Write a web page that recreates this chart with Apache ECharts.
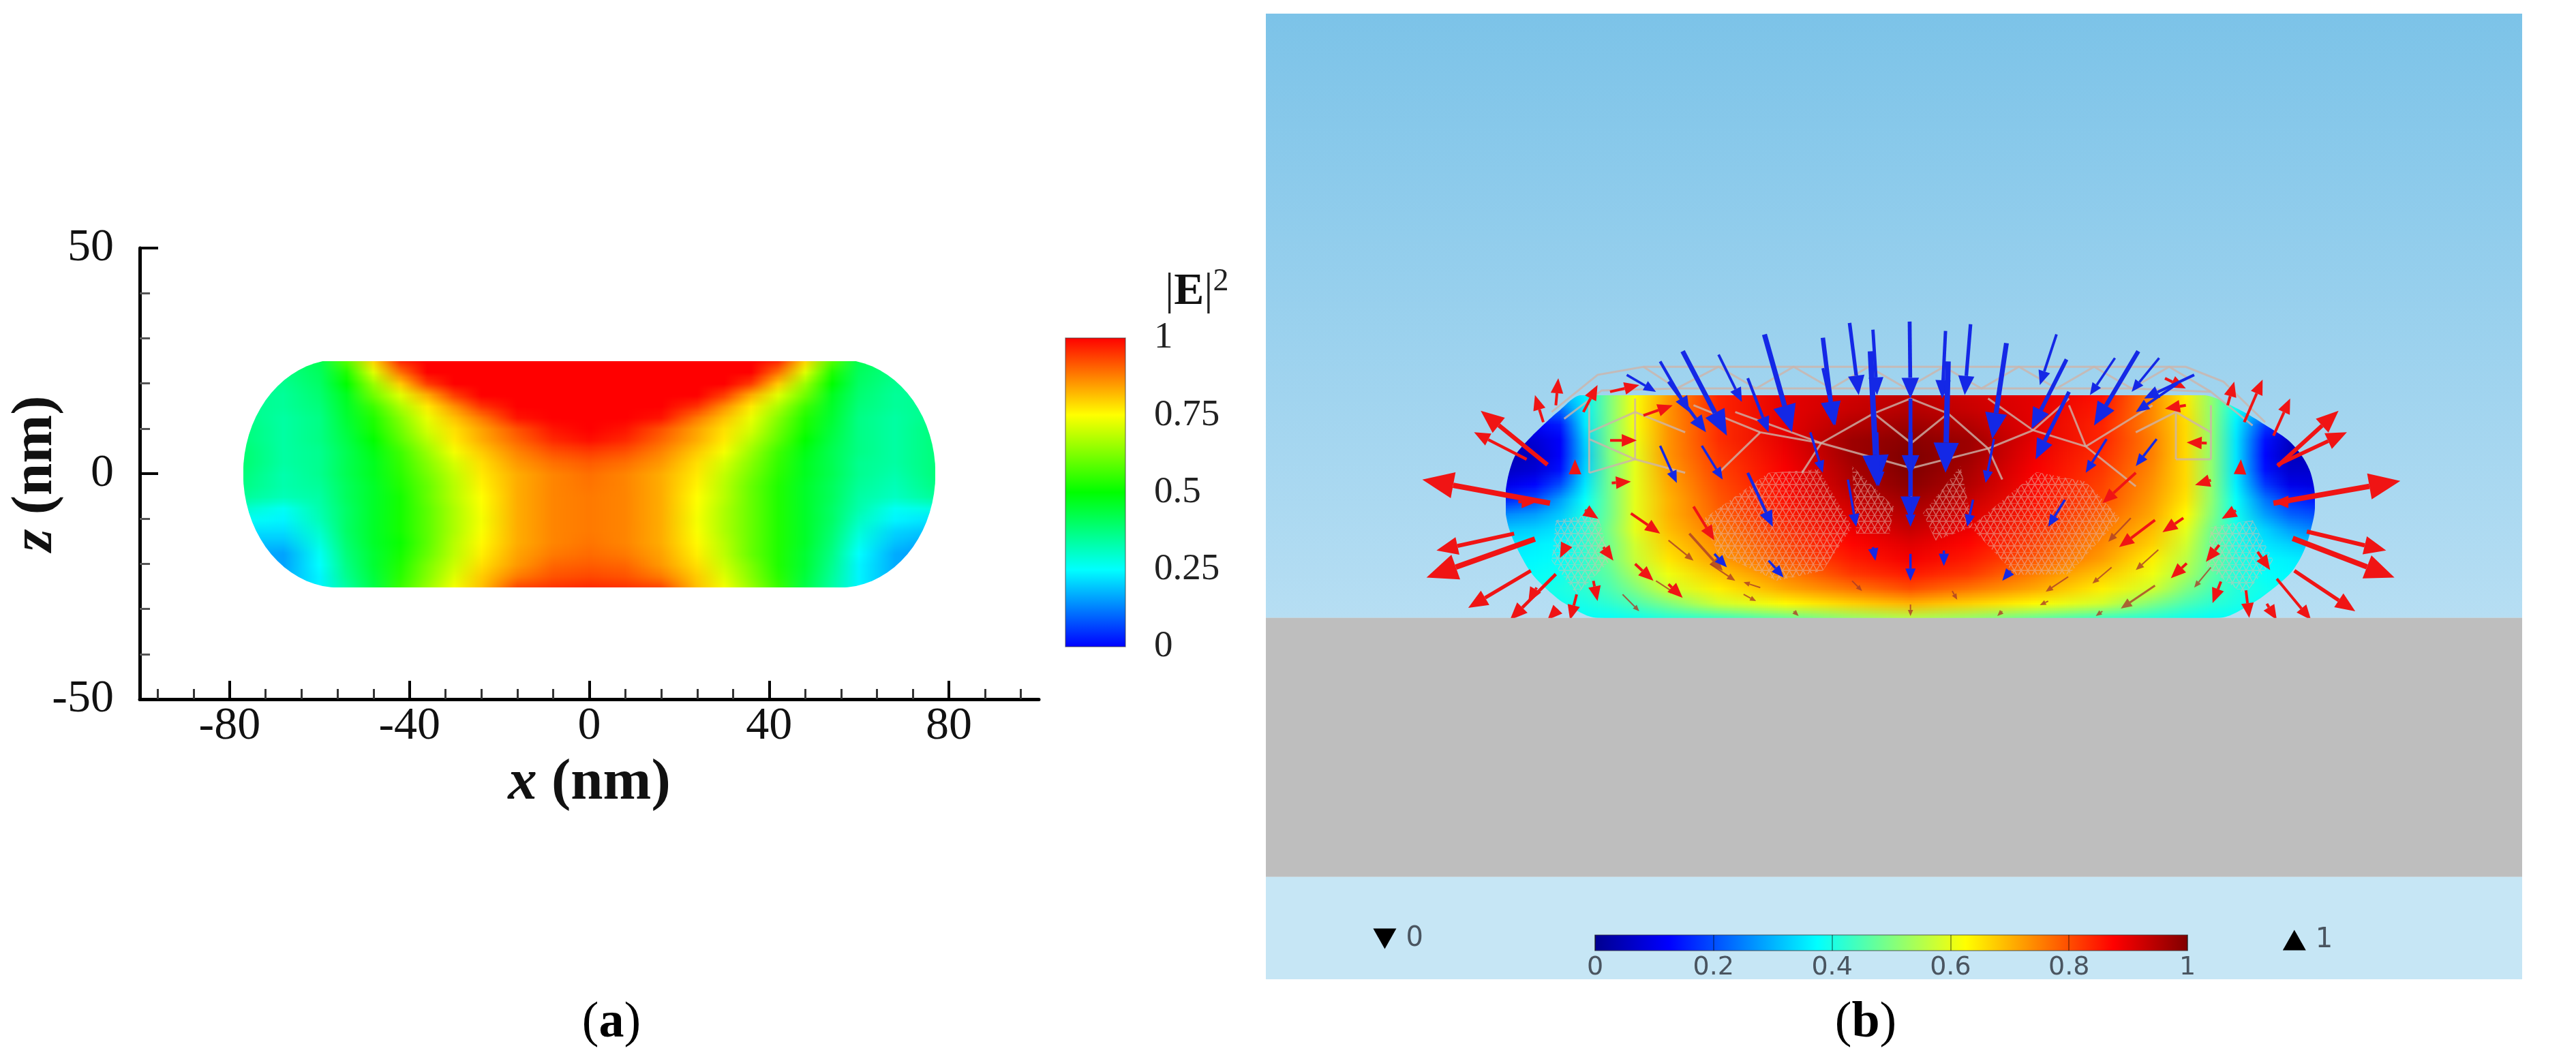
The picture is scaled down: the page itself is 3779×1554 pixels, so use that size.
<!DOCTYPE html>
<html>
<head>
<meta charset="utf-8">
<script src="https://cdn.jsdelivr.net/npm/echarts@6/dist/echarts.min.js"></script>
<style>
  html, body { margin: 0; padding: 0; background: #fff; }
  #main { width: 100vw; height: 100vh; }
</style>
</head>
<body>
<div id="main"></div>
<script>
// panel (a): axis ticks
const xMajor = [-80, -40, 0, 40, 80];
const xMinor = [-96, -88, -72, -64, -56, -48, -32, -24, -16, -8, 8, 16, 24, 32, 48, 56, 64, 72, 88, 96];
const zMajor = [-50, 0, 50];
const zMinor = [-40, -30, -20, -10, 10, 20, 30, 40];

// panel (a): |E|^2, one row per z, one column per x
const zRowsA = [25, 22.5, 20, 17.5, 15, 12.5, 10, 7.5, 5, 2.5, 0, -2.5, -5, -7.5, -10, -12.5, -15, -17.5, -20, -22.5, -25];
const xColsA = [-77, -68, -60, -54, -48, -42, -36, -30, -24, -16, -8, 0, 8, 16, 24, 30, 36, 42, 48, 54, 60, 68, 77];
const fieldA = [
  [.36,.37,.42,.58,.79,.96,1,1,1,1,1,1,1,1,1,1,1,.96,.79,.58,.42,.37,.36],
  [.36,.37,.41,.53,.72,.89,1,1,1,1,1,1,1,1,1,1,1,.89,.72,.53,.41,.37,.36],
  [.36,.36,.40,.50,.65,.80,.94,1,1,1,1,1,1,1,1,1,.94,.80,.65,.50,.40,.36,.36],
  [.36,.35,.39,.47,.61,.72,.83,.94,1,1,1,1,1,1,1,.94,.83,.72,.61,.47,.39,.35,.36],
  [.36,.35,.38,.46,.56,.67,.77,.86,.95,1,1,1,1,1,.95,.86,.77,.67,.56,.46,.38,.35,.36],
  [.37,.34,.37,.45,.53,.63,.73,.81,.88,.98,1,1,1,.98,.88,.81,.73,.63,.53,.45,.37,.34,.37],
  [.38,.34,.37,.44,.52,.61,.71,.78,.84,.92,.98,1,.98,.92,.84,.78,.71,.61,.52,.44,.37,.34,.38],
  [.38,.34,.37,.43,.50,.59,.68,.77,.83,.90,.96,.985,.96,.90,.83,.77,.68,.59,.50,.43,.37,.34,.38],
  [.39,.34,.36,.42,.48,.56,.65,.74,.80,.87,.92,.94,.92,.87,.80,.74,.65,.56,.48,.42,.37,.34,.38],
  [.39,.34,.36,.42,.47,.55,.63,.71,.78,.85,.89,.91,.89,.85,.78,.71,.63,.55,.47,.42,.36,.34,.38],
  [.38,.33,.36,.42,.47,.54,.615,.69,.77,.83,.87,.89,.87,.83,.77,.69,.615,.54,.47,.42,.36,.33,.38],
  [.37,.33,.35,.41,.46,.53,.60,.68,.76,.83,.87,.885,.87,.83,.76,.68,.60,.53,.46,.41,.35,.32,.37],
  [.35,.32,.34,.41,.46,.52,.60,.68,.75,.83,.87,.88,.87,.83,.75,.68,.60,.53,.46,.41,.34,.31,.35],
  [.30,.26,.33,.40,.46,.52,.59,.67,.745,.83,.87,.88,.87,.83,.745,.67,.60,.53,.46,.40,.33,.26,.28],
  [.26,.24,.32,.40,.46,.52,.59,.67,.74,.83,.87,.88,.87,.83,.74,.67,.60,.53,.46,.40,.31,.24,.22],
  [.22,.22,.30,.40,.46,.52,.59,.67,.745,.83,.87,.88,.87,.83,.745,.67,.60,.53,.46,.39,.29,.21,.19],
  [.19,.19,.28,.39,.46,.51,.59,.68,.755,.83,.87,.885,.87,.83,.755,.68,.60,.53,.46,.38,.27,.19,.16],
  [.17,.16,.26,.38,.45,.52,.60,.685,.765,.84,.88,.895,.88,.84,.765,.685,.60,.53,.45,.37,.25,.17,.14],
  [.17,.16,.25,.37,.45,.53,.62,.70,.78,.85,.90,.91,.90,.85,.78,.70,.62,.53,.45,.36,.24,.17,.15],
  [.18,.17,.24,.36,.44,.54,.63,.72,.80,.88,.92,.93,.92,.88,.80,.72,.63,.54,.44,.35,.24,.17,.16],
  [.20,.18,.24,.34,.43,.556,.65,.74,.81,.93,.95,.96,.95,.93,.81,.74,.65,.556,.43,.34,.24,.18,.18]
];
const barTicksA = [0, 0.25, 0.5, 0.75, 1];

// panel (b): scene units, normal field
const yRowsB = [585, 607, 629, 651, 673, 695, 717, 739, 761, 783, 805, 827, 849, 871, 893, 915];
const xColsB = [285, 320, 350, 380, 410, 440, 480, 540, 620, 700, 770, 840, 920, 1000, 1060, 1100, 1130, 1160, 1195, 1225, 1255];
const leftEdgeB = [376, 350, 330, 312, 297, 290, 286, 284, 285, 289, 296, 305, 316, 333, 355, 395];
const rightEdgeB = [1120, 1165, 1195, 1222, 1238, 1248, 1253, 1255, 1254, 1250, 1245, 1237, 1225, 1205, 1180, 1140];
const fieldB = [
  [.30,.30,.30,.36,.50,.62,.72,.84,.90,.92,.94,.92,.90,.86,.74,.64,.52,.40,.34,.34,.34],
  [.20,.20,.22,.36,.50,.62,.73,.84,.90,.93,.95,.93,.90,.85,.74,.65,.52,.38,.28,.24,.24],
  [.12,.12,.15,.35,.50,.62,.73,.83,.90,.95,.97,.95,.90,.84,.74,.66,.52,.36,.18,.12,.12],
  [.06,.08,.12,.33,.50,.61,.73,.83,.90,.97,.99,.97,.90,.84,.75,.66,.52,.35,.14,.06,.06],
  [.04,.06,.12,.32,.50,.60,.73,.82,.89,.97,1,.97,.89,.83,.75,.66,.52,.35,.13,.05,.05],
  [.06,.08,.14,.33,.49,.60,.72,.81,.88,.96,1,.96,.88,.82,.74,.66,.52,.35,.14,.07,.07],
  [.10,.13,.20,.35,.49,.60,.71,.80,.87,.95,.99,.95,.87,.81,.73,.66,.52,.36,.18,.10,.09],
  [.16,.20,.28,.38,.49,.60,.70,.79,.86,.93,.97,.93,.86,.80,.72,.65,.52,.38,.24,.17,.15],
  [.26,.28,.32,.40,.49,.60,.70,.78,.85,.91,.95,.91,.85,.78,.71,.63,.51,.39,.28,.22,.20],
  [.32,.33,.35,.41,.50,.60,.69,.76,.83,.89,.93,.89,.83,.76,.69,.60,.49,.40,.33,.28,.25],
  [.35,.36,.37,.42,.49,.58,.67,.74,.81,.87,.905,.87,.81,.74,.67,.58,.48,.40,.35,.33,.32],
  [.36,.37,.38,.42,.49,.57,.65,.72,.79,.85,.885,.85,.79,.72,.64,.56,.48,.41,.37,.36,.35],
  [.37,.38,.39,.43,.47,.54,.61,.68,.75,.82,.85,.82,.75,.68,.61,.54,.47,.41,.38,.37,.37],
  [.38,.39,.40,.42,.45,.50,.58,.64,.71,.76,.80,.76,.71,.64,.58,.50,.45,.41,.39,.38,.38],
  [.38,.38,.39,.40,.42,.45,.50,.58,.63,.67,.70,.67,.63,.58,.50,.45,.42,.40,.38,.38,.38],
  [.38,.38,.38,.38,.38,.39,.41,.43,.47,.52,.55,.52,.47,.43,.41,.39,.38,.38,.38,.38,.38]
];

// arrows as tail x, tail y, head x, head y
const blueArrows = [
  [595,495,628,640],[665,500,678,630],[697,478,708,585],[725,488,730,585],[722,520,730,720],
  [769,476,770,590],[770,590,770,705],[812,490,808,590],[842,480,835,585],[885,508,868,650],
  [945,495,925,570],[815,535,812,700],[957,532,915,635],[497,520,550,645],[540,525,568,595],
  [470,535,505,610],[1015,530,985,585],[1043,520,990,630],[1068,530,1035,580],[665,545,680,630],
  [960,580,920,680],[575,560,600,640],[430,555,465,580],[480,565,525,640],[1110,555,1050,590],
  [1090,568,1040,610],[650,640,665,700],[730,640,732,720],[770,640,770,770],[870,650,860,715],
  [1005,650,980,700],[520,660,545,710],[575,700,605,780],[695,710,705,780],[770,740,770,780],
  [845,740,838,780],[955,740,935,780],[470,660,490,715],[1065,650,1040,690],[535,820,550,840],
  [725,810,728,830],[770,820,770,860],[810,815,810,838],[890,845,880,860],[600,830,618,855]
];
const redArrows = [
  [335,688,255,608],[310,680,247,640],[338,745,185,710],[295,790,202,815],[320,798,190,855],
  [315,845,240,900],[345,850,290,918],[330,625,320,585],[345,600,348,560],[378,610,395,570],
  [1210,690,1283,608],[1210,688,1293,640],[1205,745,1357,712],[1245,787,1340,815],[1228,797,1350,855],
  [1230,845,1303,905],[1209,857,1250,918],[1170,625,1192,562],[1205,645,1225,590],[1150,600,1158,565],
  [368,700,368,680],[300,743,322,743],[380,755,396,768],[358,806,350,826],[402,810,414,830],
  [322,870,312,892],[390,860,395,890],[410,652,442,652],[412,715,435,713],[435,760,470,790],
  [440,835,462,860],[480,865,497,885],[510,750,535,800],[410,580,445,570],[450,615,485,600],
  [1125,656,1101,655],[1130,711,1111,718],[1165,700,1166,680],[1225,743,1205,743],[1160,756,1143,768],
  [1186,817,1201,844],[1140,807,1124,832],[1142,861,1132,893],[1172,874,1176,915],[1097,767,1072,788],
  [1101,834,1082,856],[1063,770,1020,810],[1100,600,1075,605],[1075,560,1100,575],[345,905,335,918],
  [370,880,362,918],[1197,894,1209,918],[1040,700,1000,745]
];
const faintArrows = [
  [1034,767,1007,802],[1067,814,1040,844],[1011,840,988,864],[959,854,932,876],[1063,867,1022,901],
  [935,890,925,896],[480,800,510,830],[505,790,545,845],[530,835,560,860],[590,870,570,862],
  [465,860,490,880],[425,880,445,905],[570,880,585,890],[700,860,712,875],[820,875,826,888],
  [770,895,770,912],[630,905,636,912],[880,905,874,912],[1000,905,992,912],[1130,840,1110,870]
];

// mesh wires as x1, y1, x2, y2, ...
const wireLines = [
  [340,610,395,555,450,543,1100,543,1145,565,1195,625],
  [355,620,400,578,490,575,1035,575,1130,580,1180,630],
  [450,543,490,575,540,543,585,575,630,543,675,575,720,543,765,575,810,543,855,575,900,543,945,575,990,543,1035,575,1080,543,1130,580],
  [560,610,663,656,726,612,771,656,815,612,863,664,917,637,980,661],
  [663,656,771,693,863,664],[726,612,770,590,815,612],[771,656,771,740],[917,637,863,590],[917,637,960,590],
  [980,661,960,600],[980,661,1060,600],[980,661,1040,720],[590,640,510,600],[590,640,663,656],[590,640,540,700],
  [663,656,640,700],[863,664,880,710],[385,600,385,700],[440,590,440,680],
  [385,640,440,610],[385,650,440,680],[385,700,440,680],[440,610,500,640],[440,680,500,700],
  [1130,600,1130,680],[1088,600,1088,680],[1130,640,1088,610],[1130,680,1088,680],[1088,610,1040,640]
];
const densePatches = [
  [520,770,600,700,660,695,700,780,665,845,610,860,540,820],
  [842,780,921,699,980,713,1021,767,960,850,896,851],
  [700,690,750,750,745,790,705,790],
  [785,760,830,690,845,780,800,800],
  [345,770,395,760,410,830,370,880,340,830],
  [1130,780,1180,770,1205,830,1170,880,1125,840]
];
const sceneBands = [[-2.5,20,1503,915,'#7cc3e8','#b6def3'],[-2.5,915,1503,1298,'#bebebe','#bebebe'],[-2.5,1298,1503,1450,'#c6e6f5','#c6e6f5']];
const limitMarks = [[140,1390,'0','triangle',180],[1230,1392,'1','triangle',0]];

const rainbow = ['#0000ff', '#00ffff', '#00ff00', '#ffff00', '#ff0000'];
const jet = ['#00008f', '#0000ff', '#0080ff', '#00ffff', '#80ff80', '#ffff00', '#ff8000', '#ff0000', '#800000'];
const serif = '"Liberation Serif"';
const sans = '"DejaVu Sans"';

const chart = echarts.init(document.getElementById('main'));

// table to small bitmap: one pixel row per table row, stretched later so the
// browser blends between the rows when it is scaled up
const fieldBitmap = (cols, field, palette) => {
  const bmp = document.createElement('canvas');
  bmp.width = 800;
  bmp.height = field.length;
  const ctx = bmp.getContext('2d');
  field.forEach((row, i) => {
    const g = ctx.createLinearGradient(0, 0, bmp.width, 0);
    row.forEach((v, k) => {
      g.addColorStop((cols[k] - cols[0]) / (cols[cols.length - 1] - cols[0]), echarts.color.lerp(v, palette));
    });
    ctx.fillStyle = g;
    ctx.fillRect(0, i, bmp.width, 1);
  });
  return bmp;
};
const bitmapA = fieldBitmap(xColsA, fieldA, rainbow);
const bitmapB = fieldBitmap(xColsB, fieldB, jet);

const fieldImage = (bmp, x0, y0, x1, y1, outline, smooth) => (params, api) => {
  const a = api.coord([x0, y0]);
  const b = api.coord([x1, y1]);
  return {
    type: 'image',
    style: {
      image: bmp, x: a[0], y: a[1], width: b[0] - a[0], height: b[1] - a[1],
      sx: 0, sy: 0.5, sWidth: bmp.width, sHeight: bmp.height - 1
    },
    clipPath: { type: 'polygon', shape: { points: outline(api), smooth: smooth } }
  };
};

// rounded bar outline of panel (a)
const capsuleOutline = (api) => {
  const flat = 55.6, capX = 21.4, capZ = 25.3;
  const pts = [];
  for (let deg = 90; deg >= -90; deg -= 5) {
    const t = deg * Math.PI / 180;
    pts.push(api.coord([flat + capX * Math.cos(t), capZ * Math.sin(t)]));
  }
  for (let deg = -90; deg >= -270; deg -= 5) {
    const t = deg * Math.PI / 180;
    pts.push(api.coord([-flat + capX * Math.cos(t), capZ * Math.sin(t)]));
  }
  return pts;
};

const edgeOutlineB = (api) => {
  const pts = [];
  yRowsB.forEach((y, i) => pts.push(api.coord([rightEdgeB[i], y])));
  for (let i = yRowsB.length - 1; i >= 0; i--) pts.push(api.coord([leftEdgeB[i], yRowsB[i]]));
  return pts;
};

// gradient colour bar between two corners in its own axes
const barItem = (palette, vertical) => (params, api) => {
  const a = api.coord([api.value(0), api.value(1)]);
  const b = api.coord([api.value(2), api.value(3)]);
  const stops = palette.map((c, k) => ({ offset: k / (palette.length - 1), color: c }));
  return {
    type: 'rect',
    shape: { x: Math.min(a[0], b[0]), y: Math.min(a[1], b[1]), width: Math.abs(b[0] - a[0]), height: Math.abs(b[1] - a[1]) },
    style: {
      fill: vertical ? new echarts.graphic.LinearGradient(0, 1, 0, 0, stops) : new echarts.graphic.LinearGradient(0, 0, 1, 0, stops),
      stroke: 'rgba(60,60,60,0.55)',
      lineWidth: 1.5
    }
  };
};

const arrowItem = (color, minHead, minLine) => (params, api) => {
  const p0 = api.coord([api.value(0), api.value(1)]);
  const p1 = api.coord([api.value(2), api.value(3)]);
  const dx = p1[0] - p0[0];
  const dy = p1[1] - p0[1];
  const len = Math.sqrt(dx * dx + dy * dy);
  const ux = dx / len;
  const uy = dy / len;
  const head = Math.max(minHead, Math.min(46, len * 0.27));
  const half = head * 0.42;
  const base = [p1[0] - ux * head, p1[1] - uy * head];
  return {
    type: 'group',
    children: [
      {
        type: 'line',
        shape: { x1: p0[0], y1: p0[1], x2: base[0], y2: base[1] },
        style: { stroke: color, lineWidth: Math.max(minLine, Math.min(8, len * 0.05)) }
      },
      {
        type: 'polygon',
        shape: { points: [p1, [base[0] - uy * half, base[1] + ux * half], [base[0] + uy * half, base[1] - ux * half]] },
        style: { fill: color }
      }
    ]
  };
};

const pairsToPoints = (flat, api) => {
  const pts = [];
  for (let i = 0; i < flat.length; i += 2) pts.push(api.coord([flat[i], flat[i + 1]]));
  return pts;
};

// tiny triangle lattice for the finely meshed patches
const meshTile = document.createElement('canvas');
meshTile.width = 20;
meshTile.height = 18;
const tileCtx = meshTile.getContext('2d');
tileCtx.strokeStyle = 'rgba(225,185,175,0.55)';
tileCtx.lineWidth = 1.5;
tileCtx.beginPath();
tileCtx.moveTo(0, 0); tileCtx.lineTo(20, 0);
tileCtx.moveTo(0, 9); tileCtx.lineTo(20, 9);
tileCtx.moveTo(0, 0); tileCtx.lineTo(10, 18);
tileCtx.moveTo(20, 0); tileCtx.lineTo(10, 18);
tileCtx.moveTo(10, 0); tileCtx.lineTo(0, 18);
tileCtx.moveTo(10, 0); tileCtx.lineTo(20, 18);
tileCtx.stroke();

const sceneSeries = (extra) => Object.assign({ type: 'custom', xAxisIndex: 3, yAxisIndex: 3, silent: true, animation: false }, extra);

const option = {
  backgroundColor: '#ffffff',
  animation: false,
  title: [
    {
      text: '({b|a})', left: 892, top: 1460, textAlign: 'center',
      textStyle: { fontFamily: serif, fontSize: 74, fontWeight: 'normal', color: '#000', rich: { b: { fontFamily: serif, fontSize: 74, fontWeight: 'bold', color: '#000' } } }
    },
    {
      text: '({b|b})', left: 2732, top: 1460, textAlign: 'center',
      textStyle: { fontFamily: serif, fontSize: 74, fontWeight: 'normal', color: '#000', rich: { b: { fontFamily: serif, fontSize: 74, fontWeight: 'bold', color: '#000' } } }
    },
    {
      text: '|{b|E}|{s|2}', left: 1704, top: 386,
      textStyle: {
        fontFamily: serif, fontSize: 66, fontWeight: 'normal', color: '#222',
        rich: {
          b: { fontFamily: serif, fontSize: 66, fontWeight: 'bold', color: '#111' },
          s: { fontFamily: serif, fontSize: 46, color: '#222', verticalAlign: 'top', padding: [0, 0, 30, 0] }
        }
      }
    }
  ],
  // outerBoundsMode off: the grids stay where they are put, labels are placed by hand
  grid: [
    { left: 205, width: 1319, top: 364, height: 662, outerBoundsMode: 'none' },
    { left: 1563, width: 88, top: 496, height: 453, outerBoundsMode: 'none' },
    { left: 1857, width: 1843, top: 20, height: 1417, outerBoundsMode: 'none' },
    { left: 2340, width: 869, top: 1372, height: 23, outerBoundsMode: 'none' }
  ],
  xAxis: [
    {
      gridIndex: 0, type: 'value', min: -100, max: 100, splitLine: { show: false },
      axisLine: { onZero: false, lineStyle: { color: '#000', width: 5 } },
      axisTick: { inside: true, length: 27, customValues: xMajor, lineStyle: { color: '#000', width: 4 } },
      axisLabel: { customValues: xMajor, margin: 6, fontFamily: serif, fontSize: 68, color: '#111' },
      name: '{i|x}{b| (nm)}', nameLocation: 'middle', nameGap: 82, nameMoveOverlap: false,
      nameTextStyle: {
        rich: {
          i: { fontFamily: serif, fontSize: 85, fontWeight: 'bold', fontStyle: 'italic', color: '#111' },
          b: { fontFamily: serif, fontSize: 85, fontWeight: 'bold', color: '#111' }
        }
      }
    },
    {
      gridIndex: 0, type: 'value', min: -100, max: 100, splitLine: { show: false }, position: 'bottom',
      axisLine: { show: false, onZero: false }, axisLabel: { show: false },
      axisTick: { inside: true, length: 15, customValues: xMinor, lineStyle: { color: '#333', width: 3 } }
    },
    { gridIndex: 1, type: 'value', min: 0, max: 1, show: false },
    { gridIndex: 2, type: 'value', min: -2.5, max: 1503, show: false },
    {
      gridIndex: 3, type: 'value', min: 0, max: 1, interval: 0.2, splitLine: { show: false }, z: 10,
      axisLine: { show: false, onZero: false },
      axisTick: { inside: true, length: 23, lineStyle: { color: 'rgba(0,0,0,0.35)', width: 2 } },
      axisLabel: { margin: 6, fontFamily: sans, fontSize: 38, color: '#4a5560' }
    }
  ],
  yAxis: [
    {
      gridIndex: 0, type: 'value', min: -50, max: 50, splitLine: { show: false },
      axisLine: { onZero: false, lineStyle: { color: '#000', width: 5 } },
      axisTick: { inside: true, length: 27, customValues: zMajor, lineStyle: { color: '#000', width: 4 } },
      axisLabel: { customValues: zMajor, margin: 38, fontFamily: serif, fontSize: 68, color: '#111' },
      name: '{i|z}{b| (nm)}', nameLocation: 'middle', nameGap: 109, nameRotate: 90, nameMoveOverlap: false,
      nameTextStyle: {
        rich: {
          i: { fontFamily: serif, fontSize: 85, fontWeight: 'bold', fontStyle: 'italic', color: '#111' },
          b: { fontFamily: serif, fontSize: 85, fontWeight: 'bold', color: '#111' }
        }
      }
    },
    {
      gridIndex: 0, type: 'value', min: -50, max: 50, splitLine: { show: false }, position: 'left',
      axisLine: { show: false, onZero: false }, axisLabel: { show: false },
      axisTick: { inside: true, length: 15, customValues: zMinor, lineStyle: { color: '#555', width: 3 } }
    },
    {
      gridIndex: 1, type: 'value', min: 0, max: 1, interval: 0.25, position: 'right', splitLine: { show: false },
      axisLine: { show: false }, axisTick: { show: false },
      axisLabel: { margin: 42, padding: [8, 0, 0, 0], fontFamily: serif, fontSize: 55, color: '#222', customValues: barTicksA }
    },
    { gridIndex: 2, type: 'value', min: 20, max: 1450, inverse: true, show: false },
    { gridIndex: 3, type: 'value', min: 0, max: 1, show: false }
  ],
  series: [
    // panel (a)
    {
      type: 'custom', xAxisIndex: 0, yAxisIndex: 0, silent: true, animation: false,
      renderItem: fieldImage(bitmapA, -77, 25, 77, -25.3, capsuleOutline, 0),
      data: [[0]]
    },
    {
      type: 'custom', xAxisIndex: 2, yAxisIndex: 2, silent: true, animation: false,
      renderItem: barItem(rainbow, true),
      data: [[0, 0, 1, 1]]
    },
    // panel (b), back to front
    sceneSeries({
      z: 1,
      renderItem: (params, api) => {
        const band = sceneBands[api.value(0)];
        const a = api.coord([band[0], band[1]]);
        const b = api.coord([band[2], band[3]]);
        return {
          type: 'rect',
          shape: { x: a[0], y: a[1], width: b[0] - a[0], height: b[1] - a[1] },
          style: {
            fill: new echarts.graphic.LinearGradient(0, 0, 0, 1, [
              { offset: 0, color: band[4] }, { offset: 1, color: band[5] }
            ])
          }
        };
      },
      data: sceneBands.map((b, i) => [i])
    }),
    sceneSeries({
      z: 2,
      renderItem: fieldImage(bitmapB, 285, 585, 1255, 915, edgeOutlineB, 0.3),
      data: [[0]]
    }),
    sceneSeries({
      z: 3,
      renderItem: (params, api) => ({
        type: 'polygon',
        shape: { points: pairsToPoints(densePatches[api.value(0)], api) },
        style: { fill: { image: meshTile, repeat: 'repeat' } }
      }),
      data: densePatches.map((p, i) => [i])
    }),
    sceneSeries({
      z: 4,
      renderItem: (params, api) => ({
        type: 'polyline',
        shape: { points: pairsToPoints(wireLines[api.value(0)], api) },
        style: { stroke: 'rgba(205,180,170,0.8)', lineWidth: 3, fill: 'none' }
      }),
      data: wireLines.map((p, i) => [i])
    }),
    sceneSeries({ z: 5, renderItem: arrowItem('rgba(170,60,40,0.8)', 9, 2), data: faintArrows }),
    sceneSeries({ z: 5, renderItem: arrowItem('#f01414', 22, 4), data: redArrows }),
    sceneSeries({ z: 6, renderItem: arrowItem('#1428e6', 18, 3.5), data: blueArrows }),
    // substrate again so arrows stop at its top edge
    sceneSeries({
      z: 7,
      renderItem: (params, api) => {
        const a = api.coord([-2.5, api.value(0)]);
        const b = api.coord([1503, api.value(1)]);
        return {
          type: 'rect',
          shape: { x: a[0], y: a[1], width: b[0] - a[0], height: b[1] - a[1] },
          style: { fill: '#bebebe' }
        };
      },
      data: [[915, 1298]]
    }),
    {
      type: 'scatter', xAxisIndex: 3, yAxisIndex: 3, z: 8, silent: true, animation: false,
      symbol: 'triangle', symbolSize: [34, 30], itemStyle: { color: '#000', opacity: 1 },
      symbolRotate: (v) => v[4],
      label: {
        show: true, position: 'right', distance: 14, formatter: (p) => p.value[2],
        fontFamily: sans, fontSize: 40, color: '#4a5560'
      },
      data: limitMarks
    },
    {
      type: 'custom', xAxisIndex: 4, yAxisIndex: 4, silent: true, animation: false, z: 8,
      renderItem: barItem(jet, false),
      data: [[0, 0, 1, 1]]
    }
  ]
};
chart.setOption(option);
window.addEventListener('resize', () => {
  chart.resize();
});
</script>
</body>
</html>
